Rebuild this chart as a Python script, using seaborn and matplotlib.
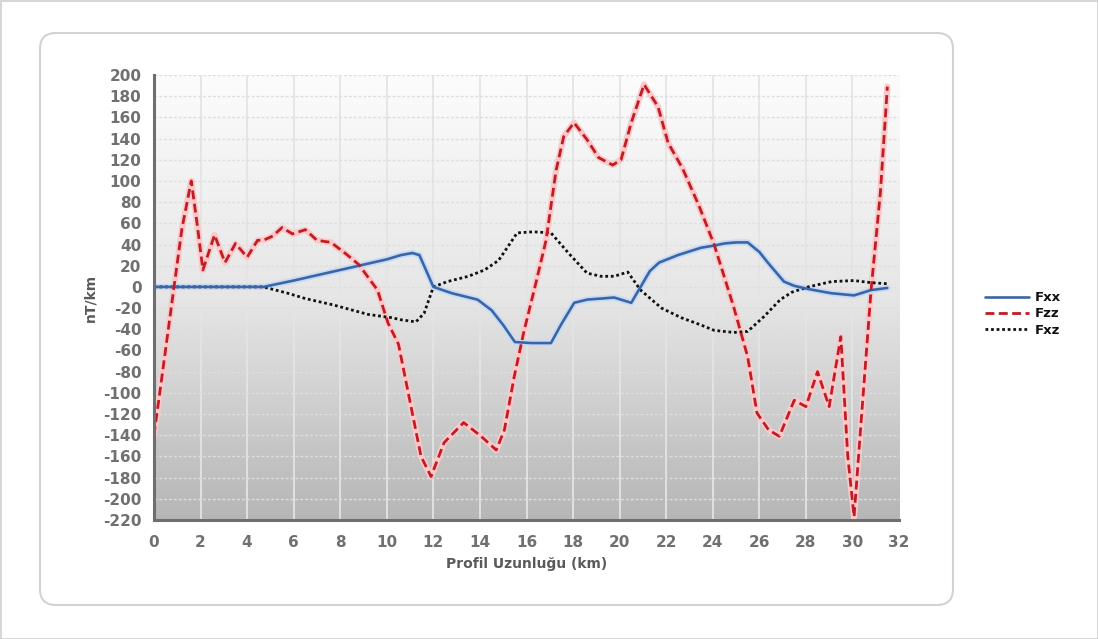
import numpy as np
import pandas as pd
import matplotlib
matplotlib.use("Agg")
import matplotlib.pyplot as plt
import seaborn as sns
from matplotlib.patches import FancyBboxPatch, Rectangle
from matplotlib.transforms import IdentityTransform
from matplotlib.ticker import MultipleLocator
from matplotlib.colors import LinearSegmentedColormap

# ---------------- data ----------------
fxx_x = [0, 1, 2, 3, 4, 4.7, 6, 7, 8, 9, 10, 10.6, 11.1, 11.4, 12.0, 12.8, 13.9, 14.5, 15.0, 15.5, 16.2, 17.05, 17.5, 18.05, 18.6, 19.2, 19.76, 20.5, 20.9, 21.3, 21.7, 22.5, 23.5, 24.06, 24.5, 25.0, 25.5, 26.0, 26.4, 27.06, 27.5, 28.1, 29.1, 30.07, 30.8, 31.5]
fxx_y = [0, 0, 0, 0, 0, 0, 6, 11, 16, 21, 26, 30, 32, 30, 0, -6, -12, -22, -36, -52, -53, -53, -35, -15, -12, -11, -10, -15, 0, 15, 23, 30, 37, 39, 41, 42, 42, 33, 22, 5, 1, -2, -6, -8, -3, -1]

fzz_x = [0, 0.4, 0.86, 1.2, 1.6, 1.85, 2.1, 2.6, 3.05, 3.5, 4.0, 4.45, 4.7, 5.1, 5.5, 5.95, 6.5, 7.0, 7.6, 8.2, 8.8, 9.6, 10.05, 10.5, 11.04, 11.47, 11.9, 12.46, 13.3, 14.05, 14.7, 15.05, 15.47, 15.9, 16.33, 16.84, 17.27, 17.6, 18.04, 18.6, 19.1, 19.7, 20.06, 20.5, 21.05, 21.65, 22.08, 22.7, 23.4, 24.06, 24.9, 25.5, 25.9, 26.4, 26.86, 27.5, 28.0, 28.5, 29.0, 29.5, 29.8, 30.07, 30.37, 30.8, 31.2, 31.5]
fzz_y = [-140, -75, 0, 55, 100, 60, 16, 49, 23, 41, 28, 44, 44, 48, 56, 50, 54, 44, 42, 32, 21, -3, -34, -54, -113, -160, -179, -147, -128, -141, -154, -135, -85, -41, -3, 44, 110, 142, 155, 139, 122, 115, 120, 155, 191, 170, 136, 112, 77, 40, -19, -66, -119, -135, -141, -107, -113, -80, -113, -47, -160, -217, -128, -3, 89, 189]

fxz_x = [0, 1, 2, 3, 4, 4.7, 5.75, 6.5, 7.7, 9.2, 10.2, 10.6, 11.25, 11.6, 12.0, 12.6, 13.5, 14.2, 14.8, 15.6, 16.3, 17.05, 17.8, 18.6, 19.2, 19.76, 20.35, 20.9, 21.8, 22.64, 23.5, 24.06, 24.9, 25.5, 26.2, 26.9, 27.4, 28.1, 29.1, 30.07, 30.8, 31.5]
fxz_y = [0, 0, 0, 0, 0, 0, -6, -11, -17, -26, -29, -31, -33, -25, 0, 5, 10, 16, 25, 51, 52, 51, 32, 13, 10, 10, 14, -3, -20, -29, -36, -41, -43, -42, -28, -12, -5, 0, 5, 6, 4, 3]

series_names = ["Fxx", "Fzz", "Fxz"]
x_ticks = list(range(0, 33, 2))
y_ticks = list(range(-220, 201, 20))
x_label = "Profil Uzunluğu (km)"
y_label = "nT/km"

# ---------------- figure ----------------
sns.set_style("white")
plt.rcParams["font.family"] = ["DejaVu Sans"]

fig = plt.figure(figsize=(10.98, 6.39), dpi=100)
fig.patch.set_facecolor("white")

H = 639
fig.patches.append(Rectangle((0.5, 0.5), 1097, 638, transform=IdentityTransform(),
                             facecolor="white", edgecolor="#cfcfcf", lw=1.2, zorder=-10))
fig.patches.append(FancyBboxPatch((40, H - 605), 913, 572,
                                  boxstyle="round,pad=0,rounding_size=16",
                                  transform=IdentityTransform(),
                                  facecolor="white", edgecolor="#d2d2d2", lw=1.5, zorder=-9))

ax = fig.add_axes([154 / 1098, 1 - 520 / 639, 745 / 1098, 445 / 639])
ax.set_xlim(0, 32)
ax.set_ylim(-220, 200)
ax.patch.set_alpha(0)

# gradient background
grad = np.linspace(0, 1, 256).reshape(-1, 1)
cmap = LinearSegmentedColormap.from_list("bg", ["#fcfcfc", "#e6e6e6", "#b6b6b6"])
ax.imshow(grad, extent=[0, 32, -220, 200], aspect="auto", cmap=cmap,
          origin="upper", zorder=0, interpolation="bilinear")

# grid
for xv in range(2, 32, 2):
    ax.axvline(xv, color="#e4e4e4", lw=1.3, zorder=1)
for yv in range(-200, 201, 20):
    ax.axhline(yv, color="#dedede", lw=1.0, ls=(0, (2, 1.5)), zorder=1)

# halos
sns.lineplot(x=fzz_x, y=fzz_y, ax=ax, color="#fbc9c9", lw=4.5, sort=False,
             estimator=None, zorder=2, legend=False)
sns.lineplot(x=fxx_x, y=fxx_y, ax=ax, color="#c9dbf3", lw=4.5, sort=False,
             estimator=None, zorder=2, legend=False)

# main lines
sns.lineplot(x=fxx_x, y=fxx_y, ax=ax, color="#3a66a8", lw=1.9, sort=False,
             estimator=None, zorder=4, label=series_names[0])
sns.lineplot(x=fzz_x, y=fzz_y, ax=ax, color="#c21b24", lw=2.0, sort=False,
             estimator=None, zorder=5, label=series_names[1], linestyle=(0, (3.2, 1.6)))
sns.lineplot(x=fxz_x, y=fxz_y, ax=ax, color="#111111", lw=2.0, sort=False,
             estimator=None, zorder=3, label=series_names[2], linestyle=(0, (1, 1)))

# spines and ticks
for s in ["top", "right"]:
    ax.spines[s].set_visible(False)
for s in ["left", "bottom"]:
    ax.spines[s].set_color("#6e6e6e")
    ax.spines[s].set_linewidth(2.2)
    ax.spines[s].set_zorder(6)

ax.xaxis.set_minor_locator(MultipleLocator(1))
ax.yaxis.set_minor_locator(MultipleLocator(10))
ax.set_xticks(x_ticks)
ax.set_xticklabels([str(v) for v in x_ticks], fontweight="bold")
ax.set_yticks(y_ticks)
ax.set_yticklabels([str(v) for v in y_ticks], fontweight="bold")
ax.tick_params(axis="both", which="major", direction="out", length=7, width=2,
               color="#6e6e6e", labelsize=11, labelcolor="#707070", pad=2)
ax.tick_params(axis="x", which="major", pad=4)
ax.tick_params(axis="both", which="minor", direction="out", length=4, width=2,
               color="#6e6e6e")

ax.set_xlabel(x_label, fontsize=10, fontweight="bold", color="#5a5a5a", labelpad=5)
ax.set_ylabel(y_label, fontsize=10, fontweight="bold", color="#5a5a5a", labelpad=4)

# legend
handles, labels = ax.get_legend_handles_labels()
leg = ax.legend(handles, labels, loc="center left", bbox_to_anchor=(985 / 1098, 1 - 314 / 639),
                bbox_transform=fig.transFigure, frameon=False, handlelength=3.3,
                handletextpad=0.5, labelspacing=0.25, borderaxespad=0, borderpad=0,
                prop={"weight": "bold", "size": 9.5})
for t in leg.get_texts():
    t.set_color("#111111")

fig.savefig("out.png", dpi=100)
